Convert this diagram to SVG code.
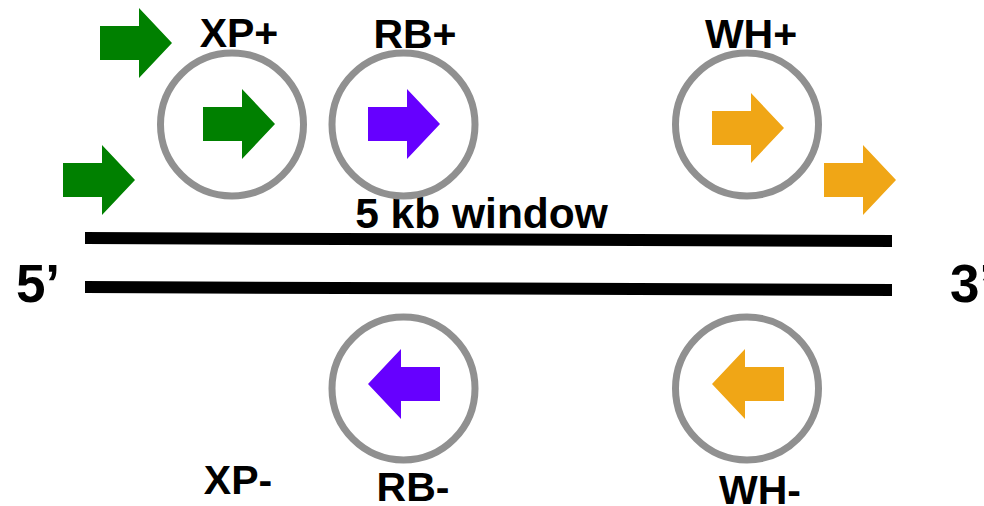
<svg xmlns="http://www.w3.org/2000/svg" width="984" height="506" viewBox="0 0 984 506">
<style>
.lbl{font-family:"Liberation Sans",Arial,sans-serif;font-weight:bold;font-size:41px;fill:#000;text-anchor:middle}
.ring{fill:none;stroke:#909090;stroke-width:7}
.g{fill:#008000}.p{fill:#6600ff}.o{fill:#f0a616}
</style>
<defs>
<polygon id="ar" points="0,-17 39,-17 39,-35 72,0 39,35 39,17 0,17"/>
<polygon id="al" points="0,0 33,-35 33,-17 72,-17 72,17 33,17 33,35"/>
</defs>
<g id="strand">
<polygon points="85,232 892,235 892,247 85,244" fill="#000"/>
<polygon points="85,281 892,284 892,296 85,293" fill="#000"/>
<text class="lbl" x="481.5" y="228" style="font-size:42.5px">5 kb window</text>
<text class="lbl" x="38" y="302" style="font-size:53px">5’</text>
<text class="lbl" x="972" y="302" style="font-size:53px">3’</text>
</g>
<g id="XP-plus">
<text class="lbl" x="239" y="47">XP+</text>
<circle class="ring" cx="232" cy="124.5" r="71.5"/>
<use href="#ar" class="g" x="203" y="124"/>
</g>
<g id="XP-outside">
<use href="#ar" class="g" x="100" y="43"/>
<use href="#ar" class="g" x="63" y="180"/>
</g>
<g id="RB-plus">
<text class="lbl" x="415" y="48">RB+</text>
<circle class="ring" cx="403.5" cy="124.5" r="71.5"/>
<use href="#ar" class="p" x="368" y="124"/>
</g>
<g id="WH-plus">
<text class="lbl" x="751" y="48">WH+</text>
<circle class="ring" cx="747" cy="124.5" r="71.5"/>
<use href="#ar" class="o" x="712" y="128"/>
</g>
<g id="WH-outside">
<use href="#ar" class="o" x="824" y="180"/>
</g>
<g id="XP-minus">
<text class="lbl" x="238" y="494">XP-</text>
</g>
<g id="RB-minus">
<circle class="ring" cx="403.5" cy="388.5" r="71.5"/>
<use href="#al" class="p" x="368" y="384"/>
<text class="lbl" x="413" y="501">RB-</text>
</g>
<g id="WH-minus">
<circle class="ring" cx="747" cy="388.5" r="71.5"/>
<use href="#al" class="o" x="712" y="384"/>
<text class="lbl" x="760" y="504">WH-</text>
</g>
<g id="connectors"/>
</svg>
